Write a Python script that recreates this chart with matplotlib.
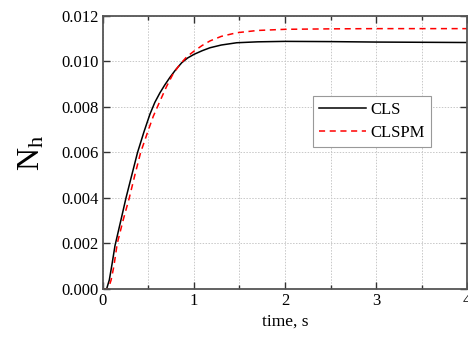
import matplotlib
matplotlib.use("Agg")
import matplotlib.pyplot as plt
from matplotlib.ticker import MultipleLocator

plt.rcParams['font.family'] = ['Liberation Serif', 'DejaVu Serif']
plt.rcParams['mathtext.fontset'] = 'custom'
plt.rcParams['mathtext.rm'] = 'Liberation Serif'
plt.rcParams['mathtext.it'] = 'Liberation Serif'

# CLS response
t_cls = [0.0, 0.04, 0.07, 0.10, 0.132, 0.19, 0.253, 0.31, 0.38, 0.45, 0.516, 0.57,
         0.626, 0.68, 0.736, 0.80, 0.865, 0.93, 1.00, 1.09, 1.176, 1.30, 1.47,
         1.70, 2.00, 2.50, 3.00, 3.50, 4.00]
n_cls = [0.0, 0.0, 0.0004, 0.0011, 0.0019, 0.0029, 0.0040, 0.0049, 0.0060, 0.0069,
         0.00768, 0.0082, 0.00862, 0.00897, 0.00930, 0.00964, 0.00994, 0.01015,
         0.01031, 0.01047, 0.01060, 0.01072, 0.01082, 0.01086, 0.01088, 0.01087,
         0.01085, 0.01084, 0.01083]

# CLSPM response
t_pm = [0.0, 0.058, 0.09, 0.12, 0.157, 0.22, 0.289, 0.35, 0.414, 0.50, 0.553, 0.62,
        0.70, 0.77, 0.846, 0.92, 1.00, 1.09, 1.176, 1.30, 1.47, 1.70, 2.00, 2.50,
        3.00, 4.00]
n_pm = [0.0, 0.0, 0.0004, 0.0010, 0.0020, 0.0030, 0.0040, 0.0050, 0.0060, 0.0070,
        0.00759, 0.0082, 0.00891, 0.00945, 0.00987, 0.0102, 0.01045, 0.01070,
        0.01090, 0.01110, 0.01126, 0.01136, 0.01141, 0.01143, 0.01144, 0.01144]

x_ticks = [0, 1, 2, 3, 4]
y_ticks = [0.000, 0.002, 0.004, 0.006, 0.008, 0.010, 0.012]

fig = plt.figure(figsize=(4.68, 3.38), dpi=100)
ax = fig.add_axes([0.220, 0.145, 0.778, 0.808])

ax.plot(t_cls, n_cls, color='black', lw=1.1, label='CLS')
ax.plot(t_pm, n_pm, color='red', lw=1.1, ls=(0, (4, 3)), label='CLSPM')

ax.set_xlim(0, 4)
ax.set_ylim(0, 0.012)
ax.set_xticks(x_ticks)
ax.set_yticks(y_ticks)
ax.set_yticklabels([f"{v:.3f}" for v in y_ticks])
ax.xaxis.set_minor_locator(MultipleLocator(0.5))

ax.grid(True, which='both', axis='x', color='#c8c8c8', ls=(0, (1.5, 1.5)), lw=0.7)
ax.grid(True, which='major', axis='y', color='#c8c8c8', ls=(0, (1.5, 1.5)), lw=0.7)
ax.set_axisbelow(True)

ax.tick_params(which='both', direction='in', top=True, right=True,
               labelsize=12, color='#333333', width=1.0)
ax.tick_params(which='major', length=5, pad=3)
ax.tick_params(which='minor', length=3)
for s in ax.spines.values():
    s.set_color('#555555')
    s.set_linewidth(1.3)

ax.set_xlabel('time, s', fontsize=12.5, labelpad=3)
ax.set_ylabel(r'N$_{\mathrm{h}}$', fontsize=23, labelpad=11)

leg = ax.legend(loc='upper left', bbox_to_anchor=(0.577, 0.707), borderaxespad=0,
                fontsize=12, frameon=True, fancybox=False, edgecolor='#999999',
                framealpha=1, handlelength=2.8, borderpad=0.35,
                labelspacing=0.45, handletextpad=0.3)
leg.get_frame().set_linewidth(0.8)

fig.savefig('out.png', dpi=100)
